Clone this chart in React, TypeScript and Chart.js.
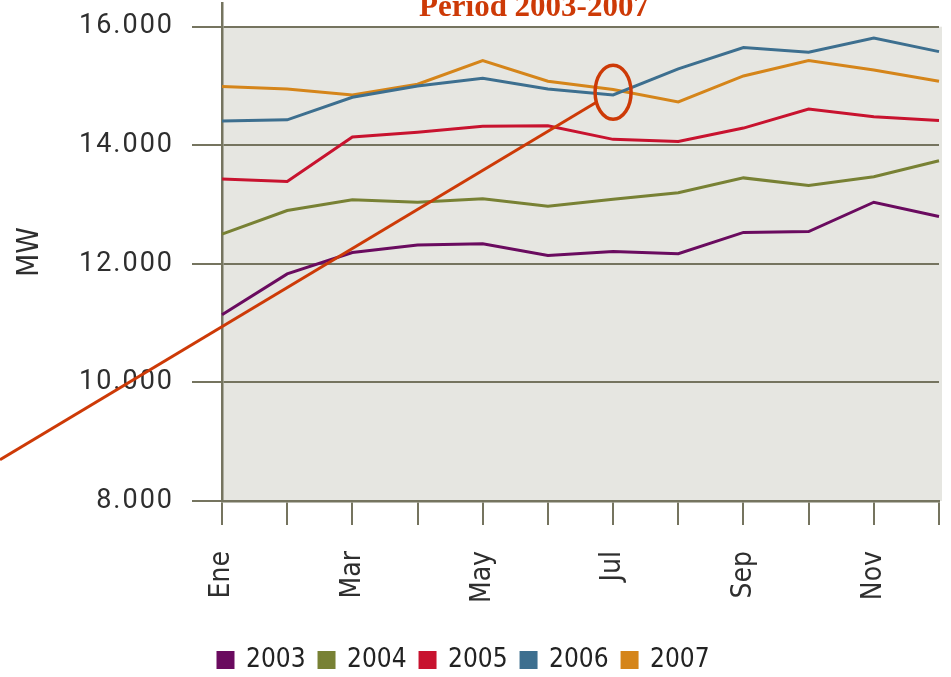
import React, { useEffect, useRef } from 'react';
import { Chart, registerables } from 'chart.js';

Chart.register(...registerables);

// ---- data ----
const MONTHS = ['Ene', 'Feb', 'Mar', 'Abr', 'May', 'Jun', 'Jul', 'Ago', 'Sep', 'Oct', 'Nov', 'Dic'];
const SHOWN_MONTHS = ['Ene', 'Mar', 'May', 'Jul', 'Sep', 'Nov'];
const YEARS = ['2003', '2004', '2005', '2006', '2007'];
const MW_2003 = [11140, 11830, 12190, 12320, 12340, 12140, 12210, 12170, 12530, 12545, 13040, 12800];
const MW_2004 = [12500, 12900, 13080, 13040, 13100, 12970, 13090, 13200, 13450, 13320, 13470, 13740];
const MW_2005 = [13430, 13390, 14140, 14220, 14320, 14330, 14100, 14065, 14290, 14610, 14480, 14420];
const MW_2006 = [14410, 14430, 14810, 15000, 15130, 14950, 14850, 15290, 15650, 15570, 15810, 15580];
const MW_2007 = [14990, 14950, 14850, 15030, 15430, 15080, 14940, 14730, 15170, 15430, 15270, 15080];
const SERIES = [MW_2003, MW_2004, MW_2005, MW_2006, MW_2007];
const COLORS = ['#6a0b5f', '#788134', '#c8132f', '#3d6f8f', '#d5851a'];
const Y_TICK_VALUES = [8000, 10000, 12000, 14000, 16000];
const Y_TICK_LABELS = ['8.000', '10.000', '12.000', '14.000', '16.000'];
const TITLE = 'Period 2003-2007';
const Y_TITLE = 'MW';
const HIGHLIGHT_MONTH = 'Jul';
const POINTER_TAIL_MONTH = 'Ene';
const POINTER_TAIL_VALUE = 10940;

const NARROW = "'Liberation Sans Narrow', 'DejaVu Sans Condensed', Roboto, sans-serif";
const GRID = '#75745f';
const TEXT = '#2e2e2e';
const ACCENT = '#cd3a07';

const tweaks = {
  id: 'tweaks',
  afterLayout(chart: any) {
    if (chart.titleBlock) {
      chart.titleBlock.left = 117;
      chart.titleBlock.right = 951;
    }
    if (chart.legend) {
      chart.legend.left = 204.5;
      chart.legend.right = 951;
    }
    const ys = chart.scales.y;
    if (ys && !ys.__patched) {
      const orig = ys.drawLabels.bind(ys);
      ys.drawLabels = (area: any) => {
        const c = chart.ctx;
        c.save();
        (c as any).letterSpacing = '2px';
        orig(area);
        c.restore();
      };
      ys.__patched = true;
    }
  },
  beforeDraw(chart: any) {
    const { ctx, chartArea } = chart;
    const y = chart.scales.y;
    const top = y.getPixelForValue(Y_TICK_VALUES[Y_TICK_VALUES.length - 1]);
    ctx.save();
    ctx.fillStyle = '#e6e6e1';
    ctx.fillRect(chartArea.left, top, chartArea.right - chartArea.left + 3, chartArea.bottom - top);
    ctx.restore();
  },
  afterDraw(chart: any) {
    const { ctx } = chart;
    const x = chart.scales.x;
    const y = chart.scales.y;
    const xi = MONTHS.indexOf(HIGHLIGHT_MONTH);
    const cx = x.getPixelForValue(xi);
    const cy = y.getPixelForValue((MW_2006[xi] + MW_2007[xi]) / 2);
    const rx = 18;
    const ry = 27;
    ctx.save();
    ctx.strokeStyle = ACCENT;
    ctx.lineWidth = 3.5;
    ctx.beginPath();
    ctx.ellipse(cx, cy, rx, ry, 0, 0, Math.PI * 2);
    ctx.stroke();
    const tx = x.getPixelForValue(MONTHS.indexOf(POINTER_TAIL_MONTH));
    const ty = y.getPixelForValue(POINTER_TAIL_VALUE);
    const dx = tx - cx;
    const dy = ty - cy;
    const t = 1 / Math.sqrt((dx / rx) ** 2 + (dy / ry) ** 2);
    const sx = cx + dx * t;
    const sy = cy + dy * t;
    const slope = (ty - sy) / (tx - sx);
    const ey = sy + (0 - sx) * slope;
    ctx.lineWidth = 3;
    ctx.beginPath();
    ctx.moveTo(sx, sy);
    ctx.lineTo(0, ey);
    ctx.stroke();
    ctx.restore();
  },
};

export default function App() {
  const ref = useRef<HTMLCanvasElement | null>(null);
  useEffect(() => {
    if (!ref.current) return;
    const chart = new Chart(ref.current, {
      type: 'line',
      data: {
        labels: MONTHS,
        datasets: YEARS.map((yr, i) => ({
          label: yr,
          data: SERIES[i],
          borderColor: COLORS[i],
          backgroundColor: COLORS[i],
          borderWidth: 3,
          pointRadius: 0,
          tension: 0,
          fill: false,
        })),
      },
      options: {
        responsive: false,
        animation: false,
        layout: { padding: { top: 0, left: 0, right: 12, bottom: -6 } },
        plugins: {
          title: {
            display: true,
            text: TITLE,
            color: ACCENT,
            font: { family: "'Liberation Serif', 'Times New Roman', serif", size: 31, weight: 'bold' },
            padding: { top: -11, bottom: -23.2 },
          },
          legend: {
            position: 'bottom',
            align: 'start',
            labels: {
              font: { family: NARROW, size: 26 },
              color: '#222222',
              boxWidth: 15,
              boxHeight: 15,
              padding: 13.5,
            },
          },
          tooltip: { enabled: false },
        },
        scales: {
          x: {
            grid: { drawOnChartArea: false, drawTicks: true, tickLength: 24, color: GRID, lineWidth: 2 },
            border: { display: true, color: GRID, width: 2.5 },
            ticks: {
              autoSkip: false,
              minRotation: 90,
              maxRotation: 90,
              padding: 26,
              color: TEXT,
              font: { family: NARROW, size: 28 },
              callback: (_v: any, i: number) => (SHOWN_MONTHS.includes(MONTHS[i]) ? MONTHS[i] : ''),
            },
            afterFit: (s: any) => {
              s.height = 132.5;
              s.paddingLeft = 0;
              s.paddingRight = 0;
            },
          },
          y: {
            min: 8000,
            max: 16400,
            grid: { drawOnChartArea: true, drawTicks: true, tickLength: 30, color: GRID, lineWidth: 2 },
            border: { display: true, color: GRID, width: 2.5 },
            title: {
              display: true,
              text: Y_TITLE,
              color: TEXT,
              font: { family: NARROW, size: 30 },
              padding: { top: 12, bottom: 0 },
            },
            afterBuildTicks: (s: any) => {
              s.ticks = Y_TICK_VALUES.map((v) => ({ value: v }));
            },
            ticks: {
              padding: 18,
              color: TEXT,
              font: { family: 'Roboto, sans-serif', size: 27 },
              callback: (v: any) => {
                const i = Y_TICK_VALUES.indexOf(Number(v));
                return i >= 0 ? Y_TICK_LABELS[i] : '';
              },
            },
            afterFit: (s: any) => {
              s.width = 222;
              s.paddingTop = 0;
              s.paddingBottom = 0;
            },
          },
        },
      },
      plugins: [tweaks],
    } as any);
    return () => chart.destroy();
  }, []);
  return (
    <div style={{ position: 'absolute', left: 0, top: 0, width: 951, height: 677 }}>
      <canvas ref={ref} width={951} height={677} style={{ display: 'block', width: 951, height: 677 }} />
    </div>
  );
}
